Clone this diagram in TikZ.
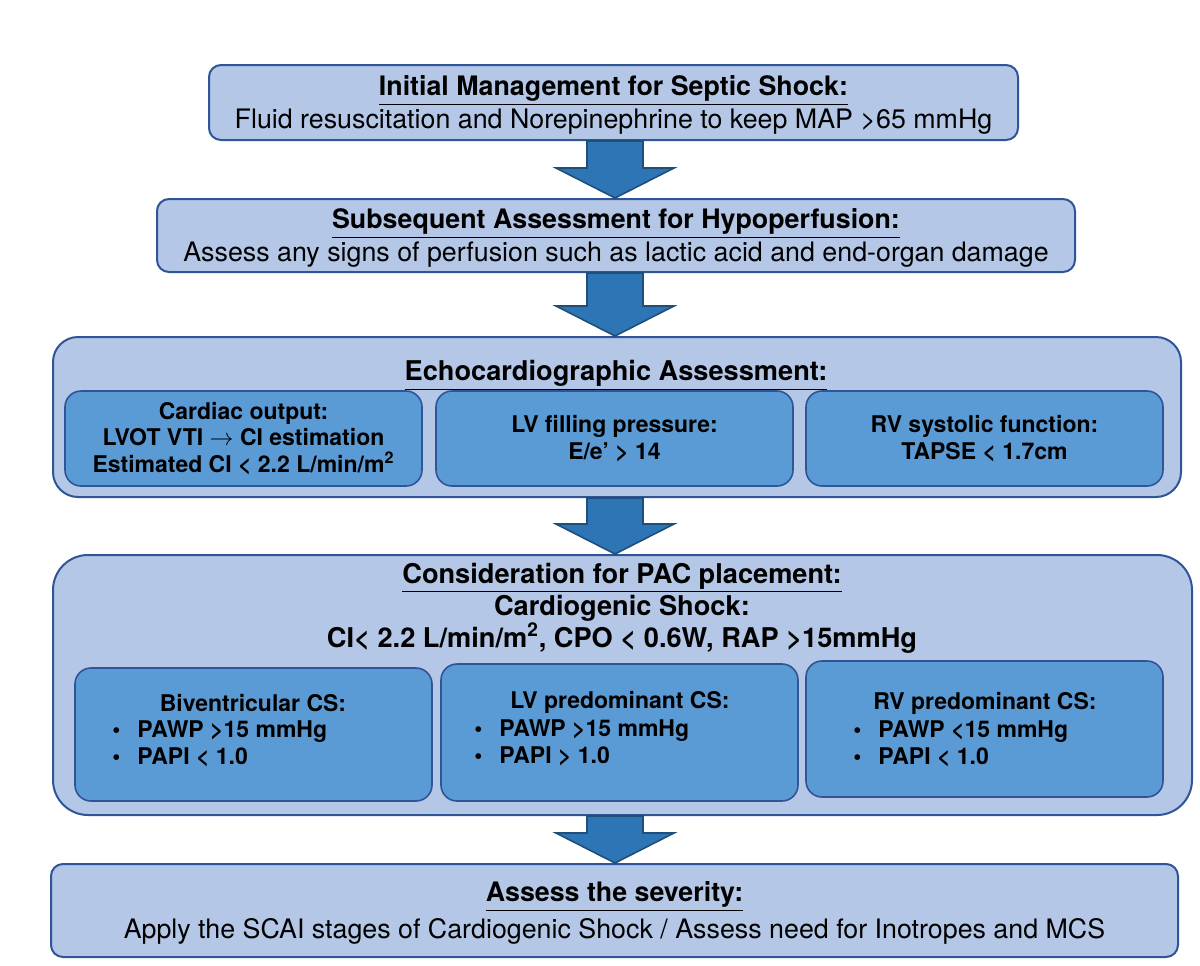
\documentclass[tikz,border=0pt]{standalone}
\usepackage{fontspec}
\setmainfont{TeX Gyre Heros}
\usetikzlibrary{calc,positioning}
\definecolor{boxlight}{HTML}{B4C7E7}
\definecolor{boxmid}{HTML}{5B9BD5}
\definecolor{boxline}{HTML}{2F5597}
\definecolor{arrowfill}{HTML}{2E75B6}
\definecolor{arrowline}{HTML}{1F4E79}

\begin{document}
\begin{tikzpicture}[x=0.5pt,y=-0.5pt,
    outer/.style={draw=boxline,line width=1pt,fill=boxlight,rounded corners=6pt,inner sep=0pt,text depth=0pt,align=center,font=\fontsize{13.4}{16.5}\selectfont},
    inner/.style={draw=boxline,line width=0.8pt,fill=boxmid,rounded corners=8pt,inner sep=0pt,align=center,font=\fontsize{11.5}{13.4}\selectfont\bfseries},
    head/.style={inner sep=0pt,align=center,font=\fontsize{13.6}{13.6}\selectfont\bfseries},
    bullets/.style={inner sep=0pt,anchor=west,align=left,font=\fontsize{11.5}{13.6}\selectfont\bfseries},
    bigarrow/.style={draw=arrowline,line width=0.8pt,fill=arrowfill,line join=miter}]
  \useasboundingbox (0,0) rectangle (1200,965);
  \coordinate (axis) at (615,0);

  \node[outer,minimum width=404.5pt,minimum height=37.5pt] (init) at (613.5,102.5)
    {\underline{\textbf{Initial Management for Septic Shock:}}\\Fluid resuscitation and Norepinephrine to keep MAP >65 mmHg};
  \node[outer,minimum width=459pt,minimum height=36.5pt] (hypo) at (616,235.5)
    {\underline{\textbf{Subsequent Assessment for Hypoperfusion:}}\\Assess any signs of perfusion such as lactic acid and end-organ damage};

  % echo
  \node[outer,rounded corners=12.5pt,minimum width=564pt,minimum height=80pt] (echo) at (617,417) {};
  \node[head] (echot) at (616,375) {\underline{Echocardiographic Assessment:}};
  \node[inner,minimum width=178.5pt,minimum height=47.5pt] (co) at (243.5,438.5)
    {Cardiac output:\\LVOT VTI $\rightarrow$ CI estimation\\Estimated CI < 2.2 L/min/m\textsuperscript{2}};
  \node[inner,minimum width=178.5pt,minimum height=47.5pt] (lvfp) at (614.5,438.5)
    {LV filling pressure:\\E/e’ > 14};
  \node[inner,minimum width=178.5pt,minimum height=47.5pt] (rvsf) at (984.5,438.5)
    {RV systolic function:\\TAPSE < 1.7cm};

  % PAC
  \node[outer,rounded corners=17.5pt,minimum width=569.5pt,minimum height=130pt] (pac) at (622.5,685) {};
  \node[head] (pact) at (622,608) {\underline{Consideration for PAC placement:}\\Cardiogenic Shock:\\CI< 2.2 L/min/m\textsuperscript{2}, CPO < 0.6W, RAP >15mmHg};
  \node[inner,minimum width=178.5pt,minimum height=66.5pt] (biv) at (253.5,734.5) {};
  \node[inner,minimum width=178.5pt,minimum height=68.5pt] (lvp) at (619.5,732.5) {};
  \node[inner,minimum width=178.5pt,minimum height=68pt] (rvp) at (984.5,729) {};
  \node[inner,draw=none,fill=none] (bivt) at (253,703) {Biventricular CS:};
  \node[inner,draw=none,fill=none] (lvpt) at (620,702) {LV predominant CS:};
  \node[inner,draw=none,fill=none] (rvpt) at (985,703) {RV predominant CS:};
  \node[bullets] (bivl) at (112,743.5) {\textbullet\hspace{8.5pt}PAWP >15 mmHg\\\textbullet\hspace{8.5pt}PAPI < 1.0};
  \node[bullets] (lvpl) at (474,742.5) {\textbullet\hspace{8.5pt}PAWP >15 mmHg\\\textbullet\hspace{8.5pt}PAPI > 1.0};
  \node[bullets] (rvpl) at (853,743.5) {\textbullet\hspace{8.5pt}PAWP <15 mmHg\\\textbullet\hspace{8.5pt}PAPI < 1.0};

  \node[outer,minimum width=563.5pt,minimum height=46.5pt] (sev) at (614.5,910.5)
    {\underline{\textbf{Assess the severity:}}\\[2pt]Apply the SCAI stages of Cardiogenic Shock / Assess need for Inotropes and MCS};

  % block arrows
  \foreach \a/\b in {init/hypo,hypo/echo,echo/pac,pac/sev}{
    \coordinate (s) at (\a.south -| axis);
    \coordinate (t) at (\b.north -| axis);
    \draw[bigarrow] ($(s)+(-28,0)$) -- ($(t)+(-28,-30)$) -- ($(t)+(-59,-30)$) -- (t)
      -- ($(t)+(59,-30)$) -- ($(t)+(28,-30)$) -- ($(s)+(28,0)$) -- cycle;
  }
\end{tikzpicture}
\end{document}
